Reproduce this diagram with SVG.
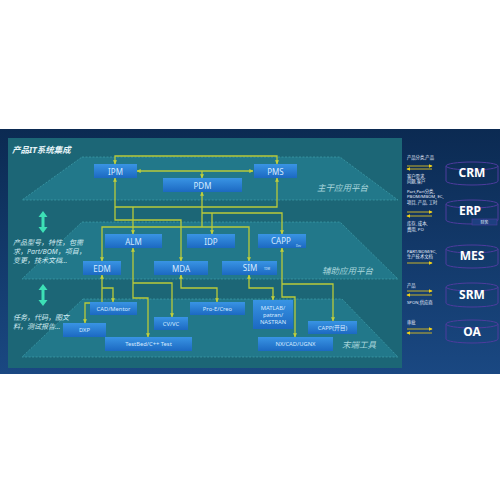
<svg xmlns="http://www.w3.org/2000/svg" width="500" height="500" viewBox="0 0 500 500">
<defs>
<linearGradient id="bg" x1="0" y1="0" x2="0" y2="1">
<stop offset="0" stop-color="#0b2a52"/>
<stop offset="1" stop-color="#1a4882"/>
</linearGradient>
<linearGradient id="nodeg" x1="0" y1="0" x2="0" y2="1">
<stop offset="0" stop-color="#3994e4"/>
<stop offset="1" stop-color="#1c69c2"/>
</linearGradient>
<marker id="ah" viewBox="0 0 6 6" refX="5.5" refY="3" markerWidth="4" markerHeight="4" orient="auto-start-reverse" markerUnits="userSpaceOnUse">
<path d="M0,0 L6,3 L0,6 z" fill="#c2d03c"/>
</marker>
<marker id="ya" viewBox="0 0 6 6" refX="5" refY="3" markerWidth="4" markerHeight="4" orient="auto-start-reverse" markerUnits="userSpaceOnUse">
<path d="M0,0 L6,3 L0,6 z" fill="#f2d21a"/>
</marker>
<style>
.node rect{fill:url(#nodeg);}
.node text{fill:#d6eaff;font-family:"Noto Sans","Noto Sans CJK SC",sans-serif;text-anchor:middle;dominant-baseline:central;}
.big text{font-size:8px;}
.small text{font-size:5.8px;}
.conn path{fill:none;stroke:#b9ca3a;stroke-width:1.3;}
.plat{fill:#22788a;stroke:#46a7b3;stroke-width:0.6;stroke-dasharray:2 1.5;}
.plabel{fill:#a9d6dc;font-family:"Noto Sans","Noto Sans CJK SC",sans-serif;font-style:italic;font-size:8.5px;}
.ltext{fill:#d2ecf2;font-family:"Noto Sans","Noto Sans CJK SC",sans-serif;font-style:italic;font-size:7px;}
.rtext{fill:#e8f0ff;font-family:"Noto Sans","Noto Sans CJK SC",sans-serif;font-size:4.3px;}
.cyl{fill:none;stroke:#4e3c9e;stroke-width:1;}
.sys{fill:#ffffff;font-family:"Noto Sans","Noto Sans CJK SC",sans-serif;font-weight:bold;font-size:12px;text-anchor:middle;}
.yl{stroke:#c8b22a;stroke-width:1;fill:none;}
</style>
</defs>
<rect x="0" y="0" width="500" height="500" fill="#ffffff"/>
<rect x="0" y="129" width="500" height="245" fill="url(#bg)"/>
<rect x="8" y="138" width="394" height="230" fill="#1c6676"/>
<polygon class="plat" points="82,157 340,157 398,200 22,200"/>
<polygon class="plat" points="82,222 340,222 398,279 22,279"/>
<polygon class="plat" points="83,299 342,299 398,357 22,357"/>
<text x="12" y="153" fill="#e6f4f8" font-family="Noto Sans, Noto Sans CJK SC, sans-serif" font-size="8.5" font-weight="bold" font-style="italic">产品IT系统集成</text>
<text class="plabel" x="317" y="191">主干应用平台</text>
<text class="plabel" x="322" y="274">辅助应用平台</text>
<text class="plabel" x="342" y="348">末端工具</text>
<g fill="#3de0b6">
<path d="M43,211 L47.5,217 L44.5,217 L44.5,227 L47.5,227 L43,233 L38.5,227 L41.5,227 L41.5,217 L38.5,217 z"/>
<path d="M43,284 L47.5,290 L44.5,290 L44.5,300 L47.5,300 L43,306 L38.5,300 L41.5,300 L41.5,290 L38.5,290 z"/>
</g>
<text class="ltext" x="13" y="245">产品型号，特性，包需</text>
<text class="ltext" x="13" y="254">求，Part/BOM，项目，</text>
<text class="ltext" x="13" y="263">变更，技术文档...</text>
<text class="ltext" x="13" y="320">任务，代码，图文</text>
<text class="ltext" x="13" y="329">料，测试报告...</text>
<g id="connectors" class="conn">
<path d="M115,164 V156 H277 V164" marker-start="url(#ah)" marker-end="url(#ah)"/>
<path d="M137,171 H253" marker-start="url(#ah)" marker-end="url(#ah)"/>
<path d="M202,171 V178" marker-end="url(#ah)"/>
<path d="M115,178 V220 H181 V261" marker-start="url(#ah)" marker-end="url(#ah)"/>
<path d="M277,178 V207 H115"  marker-start="url(#ah)"/>
<path d="M133,207 V234" marker-end="url(#ah)"/>
<path d="M202,192 V227" marker-start="url(#ah)"/>
<path d="M102,261 V227 H249 V261" marker-start="url(#ah)" marker-end="url(#ah)"/>
<path d="M202,213 H282 V234" marker-end="url(#ah)"/>
<path d="M212,213 V234" marker-end="url(#ah)"/>
<path d="M102,275 V303 H85 V323" marker-start="url(#ah)" marker-end="url(#ah)"/>
<path d="M102,288 H113 V302" marker-end="url(#ah)"/>
<path d="M133,248 V298 H148 V337" marker-start="url(#ah)" marker-end="url(#ah)"/>
<path d="M133,283 H172 V317" marker-end="url(#ah)"/>
<path d="M181,275 V288 H217 V302" marker-start="url(#ah)" marker-end="url(#ah)"/>
<path d="M249,275 V288 H273 V300" marker-start="url(#ah)" marker-end="url(#ah)"/>
<path d="M282,248 V297 H295 V337" marker-start="url(#ah)" marker-end="url(#ah)"/>
<path d="M282,284 H333 V321" marker-end="url(#ah)"/>
</g>
<g id="IPM" class="node big"><rect x="94" y="164" width="43" height="14"/><text x="115.5" y="171">IPM</text></g>
<g id="PMS" class="node big"><rect x="254" y="164" width="43" height="14"/><text x="275.5" y="171">PMS</text></g>
<g id="PDM" class="node big"><rect x="163" y="178" width="79" height="14"/><text x="202.5" y="185">PDM</text></g>
<g id="ALM" class="node big"><rect x="105" y="234" width="57" height="14"/><text x="133.5" y="241">ALM</text></g>
<g id="IDP" class="node big"><rect x="187" y="234" width="48" height="14"/><text x="211" y="241">IDP</text></g>
<g id="CAPP" class="node big"><rect x="258" y="234" width="48" height="14"/><text x="281" y="240.5">CAPP</text><text x="298.5" y="246" style="font-size:2.8px">Dev</text></g>
<g id="EDM" class="node big"><rect x="83" y="261" width="38" height="14"/><text x="102" y="268">EDM</text></g>
<g id="MDA" class="node big"><rect x="154" y="261" width="54" height="14"/><text x="181" y="268">MDA</text></g>
<g id="SIM" class="node big"><rect x="222" y="261" width="55" height="14"/><text x="250" y="267.5">SIM</text><text x="267" y="269" style="font-size:2.8px">TDM</text></g>
<g id="CADMentor" class="node small"><rect x="90" y="302" width="47" height="13"/><text x="113.5" y="308.5">CAD/Mentor</text></g>
<g id="DXP" class="node small"><rect x="63" y="323" width="43" height="14"/><text x="84.5" y="330">DXP</text></g>
<g id="CVVC" class="node small"><rect x="154" y="317" width="34" height="13"/><text x="171" y="323.5">CV/VC</text></g>
<g id="TestBed" class="node small"><rect x="105" y="337" width="87" height="14"/><text x="148.5" y="344">TestBed/C++ Test</text></g>
<g id="ProE" class="node small"><rect x="190" y="302" width="55" height="13"/><text x="217.5" y="308.5">Pro-E/Creo</text></g>
<g id="MATLAB" class="node small"><rect x="253" y="300" width="40" height="29"/><text x="273" y="307.5">MATLAB/</text><text x="273" y="314.5">patran/</text><text x="273" y="321.5">NASTRAN</text></g>
<g id="CAPPKM" class="node small"><rect x="308" y="321" width="49" height="13"/><text x="332.5" y="327.5">CAPP(开目)</text></g>
<g id="NX" class="node small"><rect x="258" y="337" width="75" height="14"/><text x="295.5" y="344">NX/CAD/UGNX</text></g>
<g id="rightlabels">
<text class="rtext" x="407" y="159">产品分类,产品</text>
<path class="yl" d="M407,166 H432" marker-end="url(#ya)"/>
<path class="yl" d="M432,169 H407" marker-end="url(#ya)"/>
<text class="rtext" x="407" y="178">客户需求,</text>
<text class="rtext" x="407" y="183">问题,客户</text>
<text class="rtext" x="407" y="193">Part,Part分类,</text>
<text class="rtext" x="407" y="198">PBOM/MBOM, EC,</text>
<text class="rtext" x="407" y="204">项目, 产品, 工时</text>
<path class="yl" d="M407,212 H432" marker-end="url(#ya)"/>
<path class="yl" d="M432,216 H407" marker-end="url(#ya)"/>
<text class="rtext" x="407" y="225">库存, 成本,</text>
<text class="rtext" x="407" y="231">费用, PO</text>
<text class="rtext" x="407" y="253">PART/BOM/EC,</text>
<text class="rtext" x="407" y="258">生产技术文档</text>
<path class="yl" d="M407,263 H432" marker-end="url(#ya)"/>
<text class="rtext" x="407" y="287">产品</text>
<path class="yl" d="M407,291 H432" marker-end="url(#ya)"/>
<path class="yl" d="M432,295 H407" marker-end="url(#ya)"/>
<text class="rtext" x="407" y="304">SPON,供应商</text>
<text class="rtext" x="407" y="324">审批</text>
<path class="yl" d="M407,329 H432" marker-end="url(#ya)"/>
<path class="yl" d="M432,333 H407" marker-end="url(#ya)"/>
</g>
<g id="CRM"><path class="cyl" d="M446,166 A26,4 0 0 1 498,166 V181 A26,4 0 0 1 446,181 Z M446,166 A26,4 0 0 0 498,166"/><text class="sys" x="472" y="177">CRM</text></g>
<g id="ERP"><path class="cyl" d="M446,204 A26,4 0 0 1 498,204 V220 A26,4 0 0 1 446,220 Z M446,204 A26,4 0 0 0 498,204"/><text class="sys" x="470" y="214.5">ERP</text><rect x="472" y="219" width="25" height="6" fill="#1d3f80" stroke="#4e3c9e" stroke-width="0.6"/><text x="484.5" y="223.6" fill="#e8f0ff" font-family="Noto Sans CJK SC, sans-serif" font-size="4" text-anchor="middle">财务</text></g>
<g id="MES"><path class="cyl" d="M446,249 A26,4 0 0 1 498,249 V264 A26,4 0 0 1 446,264 Z M446,249 A26,4 0 0 0 498,249"/><text class="sys" x="472" y="260">MES</text></g>
<g id="SRM"><path class="cyl" d="M446,287 A26,4 0 0 1 498,287 V303 A26,4 0 0 1 446,303 Z M446,287 A26,4 0 0 0 498,287"/><text class="sys" x="472" y="299">SRM</text></g>
<g id="OA"><path class="cyl" d="M446,324 A26,4 0 0 1 498,324 V339 A26,4 0 0 1 446,339 Z M446,324 A26,4 0 0 0 498,324"/><text class="sys" x="472" y="336">OA</text></g>
</svg>
